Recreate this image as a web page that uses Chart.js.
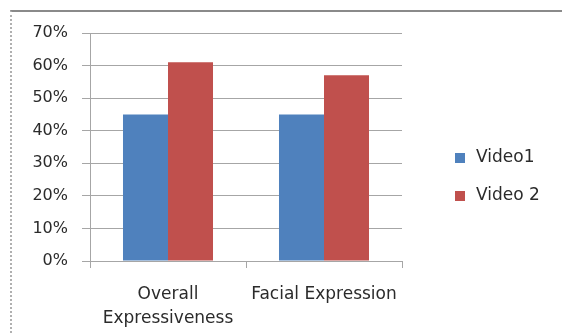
<!DOCTYPE html>
<html>
<head>
<meta charset="utf-8">
<script src="https://cdn.jsdelivr.net/npm/chart.js@4/dist/chart.umd.min.js"></script>
<style>
  html, body { margin: 0; padding: 0; background: #fff; }
  #wrap { position: relative; width: 562px; height: 333px; }
  #frame { position: absolute; left: 10px; top: 10px; right: 0; bottom: 0;
           border-top: 2px solid #8a8a8a; border-left: 2px dotted #b0b0b0; pointer-events: none; }
  canvas { position: absolute; left: 0; top: 0; }
</style>
</head>
<body>
<div id="wrap">
  <canvas id="chart" width="562" height="333"></canvas>
  <div id="frame"></div>
</div>
<script>
// Categories, series and axis ticks
const categories = [["Overall", "Expressiveness"], "Facial Expression"];
const seriesNames = ["Video1", "Video 2"];
const video1 = [45, 45];
const video2 = [61, 57];
const yTicks = [0, 10, 20, 30, 40, 50, 60, 70];

const colors = ["#4F81BD", "#C0504D"];
const font = "'DejaVu Sans', sans-serif";
const textColor = "#2b2b2b";

// Legend drawn to the right of the plot, one square marker per series
const sideLegend = {
  id: "sideLegend",
  afterDraw(chart) {
    const ctx = chart.ctx;
    ctx.save();
    ctx.font = "17px " + font;
    ctx.textBaseline = "middle";
    chart.data.datasets.forEach((ds, i) => {
      const cy = 158 + i * 38;
      ctx.fillStyle = ds.backgroundColor;
      ctx.fillRect(455, cy - 5, 10, 10);
      ctx.fillStyle = textColor;
      ctx.fillText(ds.label, 476, cy);
    });
    ctx.restore();
  }
};

new Chart(document.getElementById("chart"), {
  type: "bar",
  data: {
    labels: categories,
    datasets: [
      { label: seriesNames[0], data: video1, backgroundColor: colors[0] },
      { label: seriesNames[1], data: video2, backgroundColor: colors[1] }
    ]
  },
  options: {
    responsive: false,
    animation: false,
    layout: { padding: { left: 10, top: 33, right: 160, bottom: 0 } },
    plugins: { legend: { display: false }, tooltip: { enabled: false } },
    datasets: { bar: { categoryPercentage: 0.577, barPercentage: 1.0 } },
    scales: {
      x: {
        offset: true,
        grid: { drawOnChartArea: false, color: "#a6a6a6", tickLength: 7, lineWidth: 1 },
        border: { color: "#a6a6a6" },
        ticks: { color: textColor, font: { family: font, size: 17, lineHeight: 1.38 }, padding: 15, maxRotation: 0 },
        afterFit(scale) { scale.height = 72; }
      },
      y: {
        min: 0, max: 70,
        afterBuildTicks(scale) { scale.ticks = yTicks.map(v => ({ value: v })); },
        grid: { color: "#a6a6a6", tickLength: 8, lineWidth: 1 },
        border: { color: "#a6a6a6" },
        ticks: { color: textColor, font: { family: font, size: 16 }, padding: 14,
                 callback: v => v + "%" },
        afterFit(scale) { scale.width = 80; }
      }
    }
  },
  plugins: [sideLegend]
});
</script>
</body>
</html>
